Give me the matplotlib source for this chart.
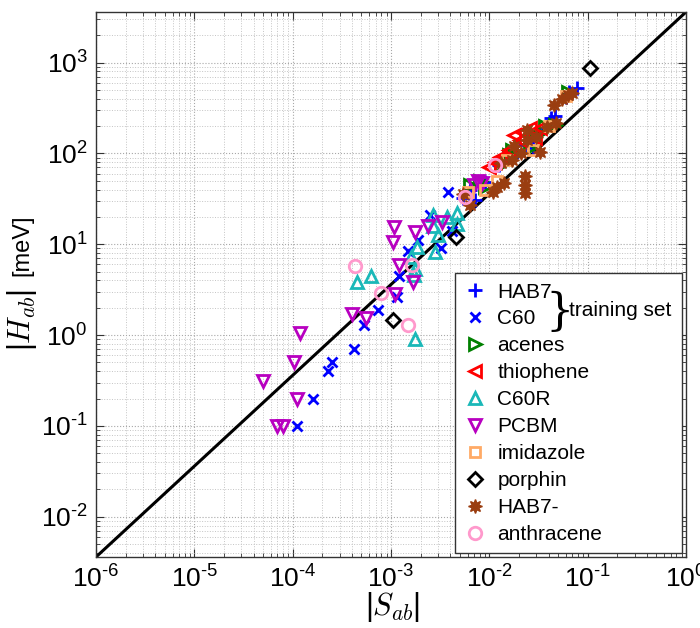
import matplotlib
matplotlib.use("Agg")
import matplotlib.pyplot as plt
import numpy as np
from matplotlib.ticker import LogLocator, FuncFormatter, NullFormatter

plt.rcParams['font.family'] = ['Liberation Sans', 'DejaVu Sans']
plt.rcParams['mathtext.fontset'] = 'custom'
plt.rcParams['mathtext.rm'] = 'Liberation Sans'
plt.rcParams['mathtext.it'] = 'Liberation Sans:italic'
plt.rcParams['mathtext.default'] = 'regular'

# ---- data (|S_ab|, |H_ab| in meV) ----
hab7_S = [0.078, 0.065, 0.06, 0.047, 0.042, 0.035, 0.028, 0.023, 0.019, 0.0125, 0.0063, 0.0054, 0.0072, 0.016, 0.009]
hab7_H = [530, 470, 420, 260, 245, 190, 114, 123, 103, 75, 40, 32, 31, 90, 48]

c60_S = [1.1e-4, 1.6e-4, 2.3e-4, 2.5e-4, 4.2e-4, 5.3e-4, 7.4e-4, 1.15e-3, 1.2e-3, 1.5e-3, 1.9e-3, 2.5e-3, 3.8e-3, 4.2e-3, 3.2e-3]
c60_H = [0.1, 0.2, 0.4, 0.5, 0.7, 1.3, 1.9, 2.6, 4.5, 8.5, 11, 21, 38, 14, 9]

acenes_S = [0.063, 0.046, 0.037, 0.026, 0.018, 0.017, 0.013, 0.0063, 0.008, 0.03, 0.0091, 0.016]
acenes_H = [470, 205, 200, 115, 95, 108, 74, 45, 50, 160, 43, 96]

thio_S = [0.0216, 0.018, 0.016, 0.026, 0.029, 0.0114, 0.010, 0.0127, 0.0206, 0.033]
thio_H = [170, 160, 110, 190, 147, 80, 70, 91, 140, 190]

c60r_S = [6.3e-4, 4.5e-4, 1.76e-3, 2.7e-3, 3.7e-3, 4.7e-3, 2.7e-3, 1.84e-3, 1.6e-3, 2.8e-3, 3.0e-3, 1.75e-3, 1.7e-3, 4.7e-3]
c60r_H = [4.5, 3.8, 0.9, 21, 20, 22, 16, 9.3, 7.3, 8.3, 12.6, 5.3, 4.6, 16.5]

pcbm_S = [5.0e-5, 6.9e-5, 8.0e-5, 1.03e-4, 1.1e-4, 1.2e-4, 4.0e-4, 5.6e-4, 1.1e-3, 1.2e-3, 1.07e-3, 1.05e-3, 1.75e-3, 1.66e-3, 2.4e-3, 3.3e-3, 7.6e-3, 8.5e-3, 7.0e-3]
pcbm_H = [0.31, 0.1, 0.1, 0.5, 0.2, 1.05, 1.7, 1.55, 2.8, 5.9, 15.5, 10.7, 13.5, 3.8, 15.7, 17.7, 50, 47, 45]

imid_S = [6e-3, 0.012, 0.015, 0.028, 0.06, 0.04, 0.009]
imid_H = [38, 50, 85, 110, 430, 200, 40]

porph_S = [0.106, 4.6e-3, 1.05e-3]
porph_H = [880, 12, 1.45]

hab7m_S = [0.045, 0.023, 0.023, 0.023, 0.033, 0.014, 0.024, 0.063, 0.07, 0.039, 0.048, 0.021, 0.017, 0.013, 0.012, 0.011, 0.024, 0.0054, 0.0063, 0.03, 0.055, 0.018]
hab7m_H = [340, 57, 45, 37, 103, 47, 140, 435, 460, 195, 215, 100, 84, 78, 43, 38, 180, 36, 27, 150, 400, 120]

anth_S = [4.3e-4, 7.9e-4, 1.65e-3, 1.5e-3, 5.6e-3, 0.0114]
anth_H = [5.8, 2.9, 5.9, 1.3, 33, 74]

fit_slope = 3600.0  # meV per unit overlap
fit_S = [1e-6, 1.0]

W, Hh = 700, 628
fig = plt.figure(figsize=(7.0, 6.28), dpi=100)
ax = fig.add_axes([96 / W, 1 - 557 / Hh, 590 / W, 545 / Hh])

ax.set_xscale('log')
ax.set_yscale('log')
ax.set_xlim(1e-6, 1.0)
ax.set_ylim(3.6e-3, 3.6e3)

ax.grid(True, which='major', linestyle=':', color='#a8a8a8', linewidth=0.8)
ax.grid(True, which='minor', linestyle=':', color='#c4c4c4', linewidth=0.7)
ax.set_axisbelow(True)

lw = 2.0
ms = 9
series = [
    (hab7_S, hab7_H, dict(marker='+', color='#0000ff', ms=10, mew=lw), 'HAB7'),
    (c60_S, c60_H, dict(marker='x', color='#0000ff', ms=7, mew=lw), 'C60'),
    (acenes_S, acenes_H, dict(marker='>', color='#008000', mfc='none', ms=ms, mew=lw), 'acenes'),
    (thio_S, thio_H, dict(marker='<', color='#ff0000', mfc='none', ms=ms, mew=lw), 'thiophene'),
    (c60r_S, c60r_H, dict(marker='^', color='#1ab8b8', mfc='none', ms=ms, mew=lw), 'C60R'),
    (pcbm_S, pcbm_H, dict(marker='v', color='#b800c0', mfc='none', ms=ms, mew=lw), 'PCBM'),
    (imid_S, imid_H, dict(marker='s', color='#ffaa66', mfc='none', ms=7, mew=lw), 'imidazole'),
    (porph_S, porph_H, dict(marker='D', color='#000000', mfc='none', ms=7, mew=lw), 'porphin'),
    (hab7m_S, hab7m_H, dict(marker=(8, 1, 0), color='#9a3d10', ms=10, mew=1), 'HAB7-'),
    (anth_S, anth_H, dict(marker='o', color='#ff99cc', mfc='none', ms=ms, mew=lw), 'anthracene'),
]

handles = []
for S, Hv, kw, lab in series:
    h, = ax.plot(S, Hv, linestyle='none', label=lab, **kw)
    handles.append(h)

fit_H = [fit_slope * s for s in fit_S]
ax.plot(fit_S, fit_H, color='black', linewidth=2.2, zorder=1.5)


def pow_fmt(v, pos):
    e = int(round(np.log10(v)))
    es = str(e) if e >= 0 else r'\text{-}' + str(-e)
    return r'$\mathdefault{10^{%s}}$' % es


ax.xaxis.set_major_locator(LogLocator(base=10, numticks=10))
ax.yaxis.set_major_locator(LogLocator(base=10, numticks=10))
ax.xaxis.set_minor_locator(LogLocator(base=10, subs=np.arange(2, 10), numticks=20))
ax.yaxis.set_minor_locator(LogLocator(base=10, subs=np.arange(2, 10), numticks=20))
ax.xaxis.set_major_formatter(FuncFormatter(pow_fmt))
ax.yaxis.set_major_formatter(FuncFormatter(pow_fmt))
ax.xaxis.set_minor_formatter(NullFormatter())
ax.yaxis.set_minor_formatter(NullFormatter())

ax.tick_params(which='both', direction='in', top=True, right=True, labelsize=19, color='#333333')
ax.tick_params(which='major', length=6, width=0.8, pad=6)
ax.tick_params(which='minor', length=3, width=0.6)
for sp in ax.spines.values():
    sp.set_color('#333333')
    sp.set_linewidth(1.0)

# axis labels
fig.text(393 / W, 1 - 607 / Hh, r'$|\mathit{S}_{\mathit{ab}}|$', fontsize=22, ha='center', va='center',
         math_fontfamily='cm')
fig.text(22 / W, 1 - 320 / Hh, r'$|\mathit{H}_{\mathit{ab}}|$', fontsize=22, ha='center', va='center',
         rotation=90, math_fontfamily='cm')
fig.text(22 / W, 1 - 245 / Hh, '[meV]', fontsize=17, ha='center', va='center', rotation=90)

leg = ax.legend(handles=handles, loc='lower left', mode='expand',
                bbox_to_anchor=(0.608, 0.007, 0.385, 0.5), fontsize=15,
                frameon=True, fancybox=False, edgecolor='#333333', framealpha=1,
                handlelength=1.0, handletextpad=0.6, labelspacing=0.38,
                borderpad=0.45, borderaxespad=0, numpoints=1)
leg.get_frame().set_linewidth(1.0)

fig.text(560 / W, 1 - 312 / Hh, '}', fontsize=32, ha='center', va='center',
         family='DejaVu Serif', fontweight='light')
fig.text(569 / W, 1 - 310 / Hh, 'training set', fontsize=15, ha='left', va='center')

fig.savefig('out.png', dpi=100)
